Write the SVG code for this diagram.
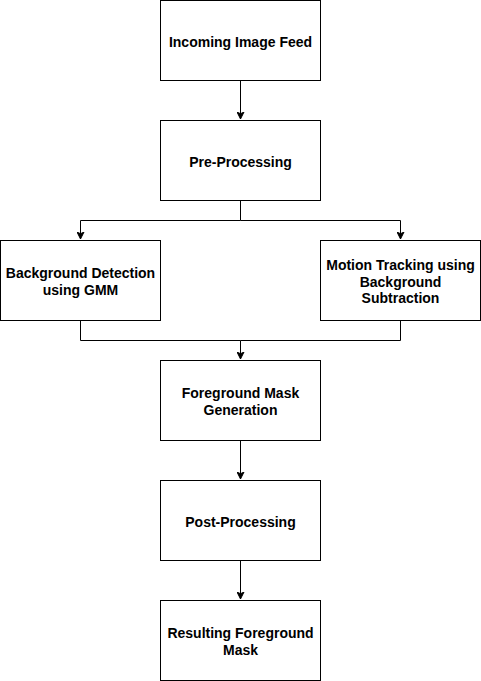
<svg xmlns="http://www.w3.org/2000/svg" width="481" height="681" viewBox="0 0 481 681">
<defs>
<marker id="arr" markerWidth="8" markerHeight="8" refX="7" refY="4" orient="auto" markerUnits="userSpaceOnUse">
<path d="M0,0.5 L7,4 L0,7.5 L1.75,4 Z" fill="#000" stroke="#000" stroke-width="1"/>
</marker>
<style>
.box{fill:#fff;stroke:#000;stroke-width:1}
.lbl{font-family:"Liberation Sans",Arial,sans-serif;font-size:14px;font-weight:bold;fill:#000;text-anchor:middle}
.ln{fill:none;stroke:#000;stroke-width:1}
</style>
</defs>
<rect width="481" height="681" fill="#fff"/>
<g id="connectors">
<path class="ln" d="M240.5,80.5 V119" marker-end="url(#arr)"/>
<path class="ln" d="M240.5,200.5 V220.5 H80.5 V239" marker-end="url(#arr)"/>
<path class="ln" d="M240.5,220.5 H400.5 V239" marker-end="url(#arr)"/>
<path class="ln" d="M80.5,320.5 V340.5 H240.5 V359" marker-end="url(#arr)"/>
<path class="ln" d="M400.5,320.5 V340.5 H240.5"/>
<path class="ln" d="M240.5,440.5 V479" marker-end="url(#arr)"/>
<path class="ln" d="M240.5,560.5 V599" marker-end="url(#arr)"/>
</g>
<g id="n1"><rect class="box" x="160.5" y="0.5" width="160" height="80"/><text class="lbl" x="240.5" y="47">Incoming Image Feed</text></g>
<g id="n2"><rect class="box" x="160.5" y="120.5" width="160" height="80"/><text class="lbl" x="240.5" y="167">Pre-Processing</text></g>
<g id="n3"><rect class="box" x="0.5" y="240.5" width="160" height="80"/><text class="lbl" x="80.5" y="277.5">Background Detection</text><text class="lbl" x="80.5" y="294.5">using GMM</text></g>
<g id="n4"><rect class="box" x="320.5" y="240.5" width="160" height="80"/><text class="lbl" x="400.5" y="270">Motion Tracking using</text><text class="lbl" x="400.5" y="287">Background</text><text class="lbl" x="400.5" y="303">Subtraction</text></g>
<g id="n5"><rect class="box" x="160.5" y="360.5" width="160" height="80"/><text class="lbl" x="240.5" y="397.5">Foreground Mask</text><text class="lbl" x="240.5" y="414.5">Generation</text></g>
<g id="n6"><rect class="box" x="160.5" y="480.5" width="160" height="80"/><text class="lbl" x="240.5" y="527">Post-Processing</text></g>
<g id="n7"><rect class="box" x="160.5" y="600.5" width="160" height="80"/><text class="lbl" x="240.5" y="637.5">Resulting Foreground</text><text class="lbl" x="240.5" y="654.5">Mask</text></g>
</svg>
